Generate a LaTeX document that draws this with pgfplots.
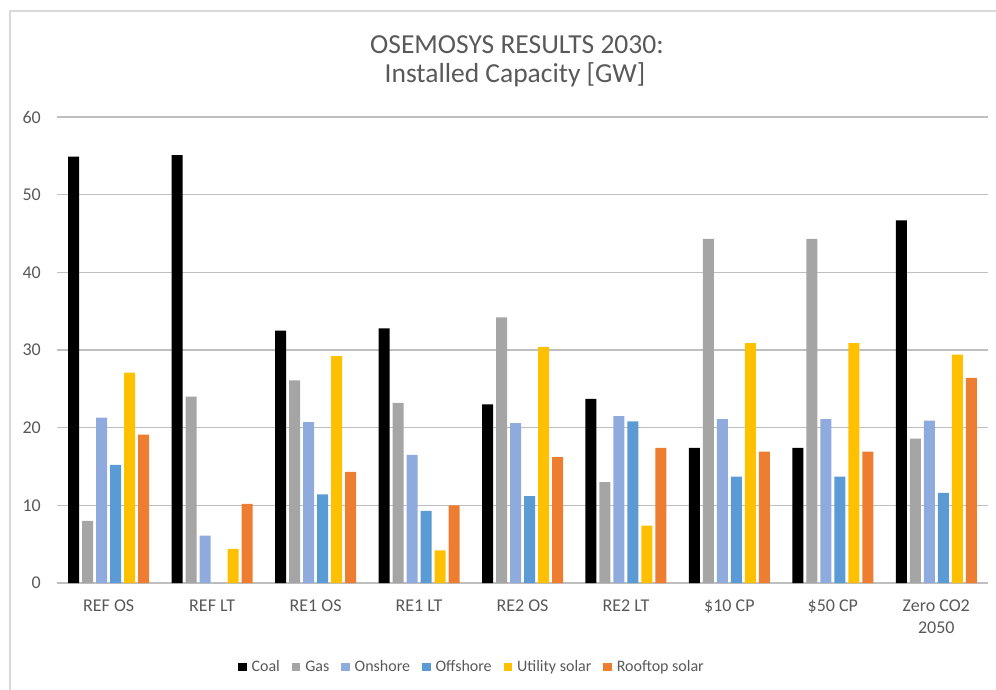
\documentclass[border=0pt]{standalone}
\usepackage{pgfplots}
\pgfplotsset{compat=1.18}
\usepackage{fontspec}
\setmainfont{Carlito}
\definecolor{txt}{HTML}{595959}
\definecolor{grid}{HTML}{D9D9D9}
\definecolor{cgas}{HTML}{A5A5A5}
\definecolor{con}{HTML}{8FAADC}
\definecolor{coff}{HTML}{5B9BD5}
\definecolor{cutil}{HTML}{FFC000}
\definecolor{croof}{HTML}{ED7D31}
\begin{document}
\begin{tikzpicture}[x=1pt,y=1pt]
\useasboundingbox (0,0) rectangle (996,689);
\draw[grid, line width=1.5pt] (10,-20) -- (10,678) -- (1020,678);
\node[txt, font=\fontsize{27.5}{33}\selectfont] at (517,644) {OSEMOSYS RESULTS 2030:};
\node[txt, font=\fontsize{27.5}{33}\selectfont] at (515,614) {Installed Capacity [GW]};
\begin{axis}[
  at={(57pt,106pt)}, anchor=south west,
  scale only axis, width=931pt, height=466pt,
  xmin=-0.5, xmax=8.5, ymin=0, ymax=60,
  ytick={0,10,...,60},
  xtick={0,...,8},
  xticklabels={REF OS, REF LT, RE1 OS, RE1 LT, RE2 OS, RE2 LT, \$10 CP, \$50 CP, {Zero CO2\\2050}},
  axis line style={draw=none},
  major tick length=0pt,
  xtick style={draw=none}, ytick style={draw=none},
  xmajorgrids=false,
  ymajorgrids, grid style={grid, line width=1.3pt},
  ybar=3pt, bar width=11pt,
  tick label style={txt, font=\fontsize{18}{21.5}\selectfont, inner sep=0pt},
  xticklabel style={align=center, anchor=north, yshift=-17pt},
  yticklabel style={anchor=east, xshift=-16pt},
  /pgf/number format/assume math mode=true,
  legend columns=6,
  legend style={at={(0.4458,-0.1803)}, anchor=center, draw=none, fill=none,
    font=\fontsize{16}{19}\selectfont, text=txt,
    nodes={inner sep=2pt},
    /tikz/every odd column/.append style={column sep=3pt},
    /tikz/every even column/.append style={column sep=10pt}},
  legend image code/.code={\fill[#1] (0pt,-4.2pt) rectangle (8.4pt,4.2pt);},
]
\addplot[fill=black, draw=none] coordinates {(0,54.9) (1,55.1) (2,32.5) (3,32.8) (4,23.0) (5,23.7) (6,17.4) (7,17.4) (8,46.7)};
\addplot[fill=cgas, draw=none] coordinates {(0,8.0) (1,24.0) (2,26.1) (3,23.2) (4,34.2) (5,13.0) (6,44.3) (7,44.3) (8,18.6)};
\addplot[fill=con, draw=none] coordinates {(0,21.3) (1,6.1) (2,20.7) (3,16.5) (4,20.6) (5,21.5) (6,21.1) (7,21.1) (8,20.9)};
\addplot[fill=coff, draw=none] coordinates {(0,15.2) (1,0) (2,11.4) (3,9.3) (4,11.2) (5,20.8) (6,13.7) (7,13.7) (8,11.6)};
\addplot[fill=cutil, draw=none] coordinates {(0,27.1) (1,4.4) (2,29.2) (3,4.2) (4,30.4) (5,7.4) (6,30.9) (7,30.9) (8,29.4)};
\addplot[fill=croof, draw=none] coordinates {(0,19.1) (1,10.2) (2,14.3) (3,10.0) (4,16.2) (5,17.4) (6,16.9) (7,16.9) (8,26.4)};
\legend{Coal, Gas, Onshore, Offshore, Utility solar, Rooftop solar}
\end{axis}
\end{tikzpicture}
\end{document}
